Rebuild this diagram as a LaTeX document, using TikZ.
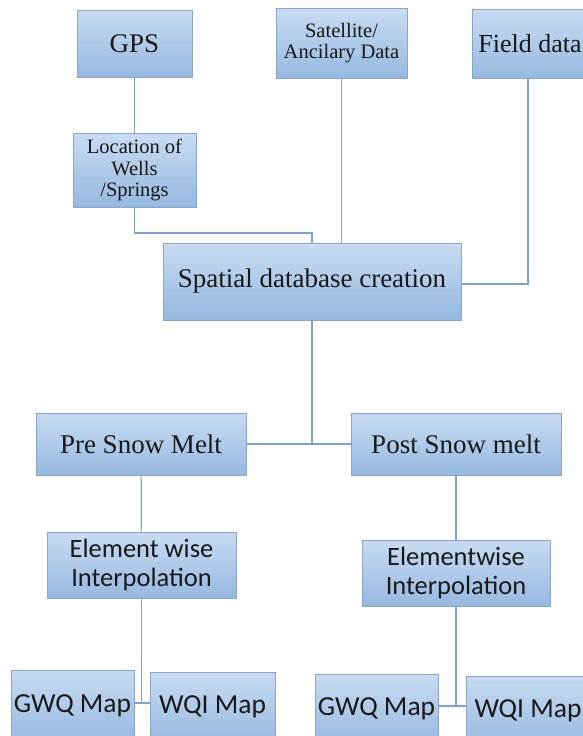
\documentclass[tikz,border=0pt]{standalone}
\usepackage{fontspec}
\setmainfont{Liberation Serif}
\newfontfamily\seriff{Liberation Serif}
\newfontfamily\sansf{Carlito}
\definecolor{boxtop}{RGB}{200,219,242}
\definecolor{boxbot}{RGB}{150,184,224}
\definecolor{boxline}{RGB}{140,165,196}
\definecolor{conn}{RGB}{128,163,206}
\tikzset{
  box/.style={draw=boxline, line width=0.9pt, top color=boxtop, bottom color=boxbot,
    inner sep=0pt, align=center, text=black!90},
  bigserif/.style={font=\seriff\fontsize{27}{28}\selectfont},
  smallserif/.style={font=\seriff\fontsize{20.5}{21.5}\selectfont},
  sansbox/.style={font=\sansf\fontsize{26.5}{28.5}\selectfont},
  mapbox/.style={font=\sansf\fontsize{27.5}{28}\selectfont},
  conn/.style={draw=conn, line width=1.2pt}
}
\begin{document}
\begin{tikzpicture}[x=1pt,y=-1pt]
\useasboundingbox (0,0) rectangle (582,736);
\node[box,bigserif,minimum width=115pt,minimum height=67pt] (gps) at (134.5,43.5) {GPS};
\node[box,smallserif,minimum width=131pt,minimum height=70pt] (sat) at (341.5,43) {Satellite/\\Ancilary Data};
\node[box,bigserif,minimum width=116pt,minimum height=69pt,font=\seriff\fontsize{26}{28}\selectfont] (field) at (530,43.5) {Field data};
\node[box,smallserif,minimum width=123pt,minimum height=74pt] (loc) at (134.5,170) {Location of\\Wells\\/Springs};
\node[box,bigserif,minimum width=298pt,minimum height=77pt] (spatial) at (312,281.5) {Spatial database creation};
\node[box,bigserif,minimum width=210pt,minimum height=62pt] (pre) at (141,444) {Pre Snow Melt};
\node[box,bigserif,minimum width=210pt,minimum height=62pt] (post) at (456,444) {Post Snow melt};
\node[box,sansbox,minimum width=189pt,minimum height=66pt] (elL) at (141.5,565) {Element wise\\Interpolation};
\node[box,sansbox,minimum width=188pt,minimum height=66pt] (elR) at (456,573) {Elementwise\\Interpolation};
\node[box,mapbox,minimum width=123pt,minimum height=72pt] (gwqL) at (72.5,706) {GWQ Map};
\node[box,mapbox,minimum width=125pt,minimum height=70pt] (wqiL) at (212.5,707) {WQI Map};
\node[box,mapbox,minimum width=123pt,minimum height=70pt] (gwqR) at (376.5,709) {GWQ Map};
\node[box,mapbox,minimum width=124pt,minimum height=70pt] (wqiR) at (528,711) {WQI Map};
\coordinate (j1) at (312,233);
\coordinate (jL) at (141.5,703);
\coordinate (jR) at (456,706);
\coordinate (fd) at (528,78);
\path[conn] (gps) -- (loc);
\path[conn] (loc.south) |- (j1) -- (spatial.north);
\path[conn] (sat.south) -- (sat.south |- spatial.north);
\path[conn] (fd) |- ([yshift=-2.5pt]spatial.east);
\path[conn] (spatial.south) -- (spatial.south |- pre.east);
\path[conn] (pre.east) -- (post.west);
\path[conn] (pre) -- (elL);
\path[conn] (post) -- (elR);
\path[conn] (elL.south) -- (jL);
\path[conn] (gwqL.east |- jL) -- (wqiL.west |- jL);
\path[conn] (elR.south) -- (jR);
\path[conn] (gwqR.east |- jR) -- (wqiR.west |- jR);
\end{tikzpicture}
\end{document}
